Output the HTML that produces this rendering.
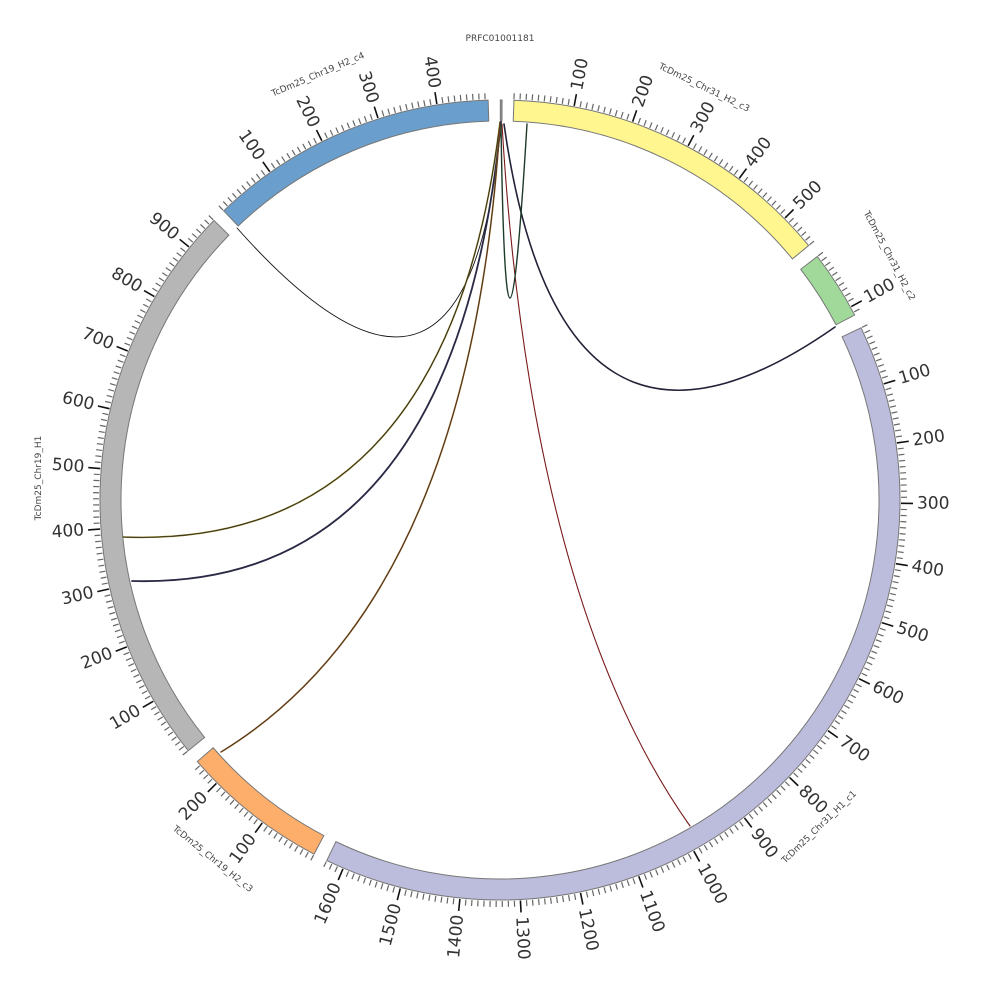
<!DOCTYPE html>
<html><head><meta charset="utf-8"><style>
html,body{margin:0;padding:0;background:#fff;}
svg{display:block;}
.tl{font-family:"DejaVu Sans","Liberation Sans",sans-serif;font-size:17px;fill:#333;}
.nm{font-family:"DejaVu Sans","Liberation Sans",sans-serif;font-size:9px;fill:#444;text-anchor:middle;}
</style></head><body>
<svg id="s" width="1000" height="1000" viewBox="0 0 1000 1000" xmlns="http://www.w3.org/2000/svg">
<g id="rings"></g>
<g id="ticks"></g>
<g fill="none" stroke-linecap="round">
<path d="M501,122 Q470,490 237,228" stroke="#111" stroke-width="0.9"/>
<path d="M500,122 Q448,550 123,537" stroke="#8a7a20" stroke-width="1.6"/>
<path d="M500,122 Q448,550 123,537" stroke="#222" stroke-width="0.7"/>
<path d="M501,122 Q455,590 132,581" stroke="#2a2a45" stroke-width="1.8"/>
<path d="M500,124 Q470,600 221,752" stroke="#9a5a10" stroke-width="1.6"/>
<path d="M500,124 Q470,600 221,752" stroke="#333" stroke-width="0.7"/>
<path d="M502,124 Q530,600 690,826" stroke="#7a1a1a" stroke-width="1.1"/>
<path d="M504,124 Q560,520 835,327" stroke="#222238" stroke-width="1.6"/>
<path d="M501,124 Q506,472 527,124" stroke="#1d3b2a" stroke-width="1.4"/>
</g>
<g id="lab">
<g data-seg="0"><text class="tl">100</text><text class="tl">200</text><text class="tl">300</text><text class="tl">400</text><text class="tl">500</text></g>
<g data-seg="1"><text class="tl">100</text></g>
<g data-seg="2"><text class="tl">100</text><text class="tl">200</text><text class="tl">300</text><text class="tl">400</text><text class="tl">500</text><text class="tl">600</text><text class="tl">700</text><text class="tl">800</text><text class="tl">900</text><text class="tl">1000</text><text class="tl">1100</text><text class="tl">1200</text><text class="tl">1300</text><text class="tl">1400</text><text class="tl">1500</text><text class="tl">1600</text></g>
<g data-seg="3"><text class="tl">100</text><text class="tl">200</text></g>
<g data-seg="4"><text class="tl">100</text><text class="tl">200</text><text class="tl">300</text><text class="tl">400</text><text class="tl">500</text><text class="tl">600</text><text class="tl">700</text><text class="tl">800</text><text class="tl">900</text></g>
<g data-seg="5"><text class="tl">100</text><text class="tl">200</text><text class="tl">300</text><text class="tl">400</text></g>
</g>
<text class="nm" x="500" y="41">PRFC01001181</text>
<text class="nm" transform="translate(703,90) rotate(26)">TcDm25_Chr31_H2_c3</text>
<text class="nm" transform="translate(887,257) rotate(62)">TcDm25_Chr31_H2_c2</text>
<text class="nm" transform="translate(821,829) rotate(-44)">TcDm25_Chr31_H1_c1</text>
<text class="nm" transform="translate(211,861) rotate(39)">TcDm25_Chr19_H2_c3</text>
<text class="nm" transform="translate(41,478) rotate(-90)">TcDm25_Chr19_H1</text>
<text class="nm" transform="translate(319,77) rotate(-23)">TcDm25_Chr19_H2_c4</text>
</svg>
<script>
(function(){
var cx=500,cy=500,K=0.0866,R0=379,R1=400;
var segs=[
 {a:2.0,len:560,c:"#fff68f"},
 {a:52.5,len:115,c:"#a1d99b"},
 {a:64.5,len:1630,c:"#bcbddc"},
 {a:207.7,len:248,c:"#fdae6b"},
 {a:231.2,len:960,c:"#b6b6b6"},
 {a:316.3,len:485,c:"#6a9fcd"}
];
function pt(a,r){var t=a*Math.PI/180;return [cx+r*Math.sin(t),cy-r*Math.cos(t)];}
function f(p){return p[0].toFixed(2)+","+p[1].toFixed(2);}
function ring(a0,a1,c){
 var lg=(a1-a0)>180?1:0;
 return '<path d="M'+f(pt(a0,R1))+' A'+R1+','+R1+' 0 '+lg+' 1 '+f(pt(a1,R1))+' L'+f(pt(a1,R0))+' A'+R0+','+R0+' 0 '+lg+' 0 '+f(pt(a0,R0))+' Z" fill="'+c+'" stroke="#777" stroke-width="1"/>';
}
var rh='',th='';
segs.forEach(function(s){
 s.b=s.a+s.len*K;
 rh+=ring(s.a,s.b,s.c);
 for(var v=0;v<=s.len;v+=10){
  var a=s.a+v*K,maj=(v%100===0&&v>0);
  var p0=pt(a,R1+1),p1=pt(a,maj?R1+13:R1+7);
  th+='<line x1="'+p0[0].toFixed(2)+'" y1="'+p0[1].toFixed(2)+'" x2="'+p1[0].toFixed(2)+'" y2="'+p1[1].toFixed(2)+'" stroke="'+(maj?'#111':'#666')+'" stroke-width="'+(maj?1.6:1.2)+'"/>';
 }
});
rh+=ring(0.05,0.3,"#999");
document.getElementById('rings').innerHTML=rh;
document.getElementById('ticks').innerHTML=th;
var gs=document.querySelectorAll('#lab g');
for(var i=0;i<gs.length;i++){
 var s=segs[+gs[i].getAttribute('data-seg')];
 var ts=gs[i].querySelectorAll('text');
 for(var j=0;j<ts.length;j++){
  var v=+ts[j].textContent,a=s.a+v*K,p=pt(a,417),rot;
  if(a>180){rot=a-270;ts[j].setAttribute('text-anchor','end');}
  else{rot=a-90;ts[j].setAttribute('text-anchor','start');}
  ts[j].setAttribute('dominant-baseline','central');
  ts[j].setAttribute('transform','translate('+p[0].toFixed(2)+','+p[1].toFixed(2)+') rotate('+rot.toFixed(2)+')');
 }
}
})();
</script>
</body></html>
